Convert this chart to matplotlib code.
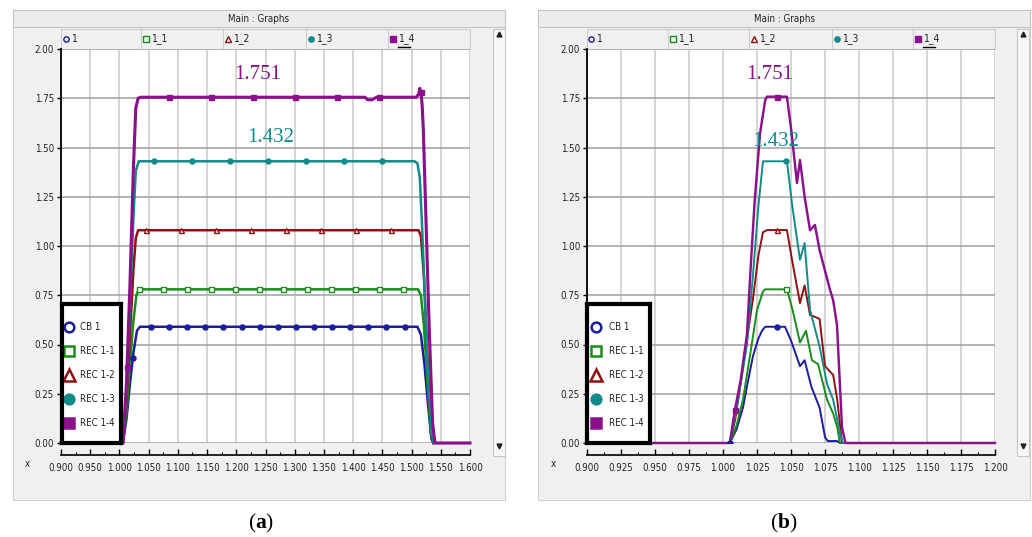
import numpy as np
import matplotlib.pyplot as plt
from matplotlib.patches import Rectangle

plt.rcParams['mathtext.fontset'] = 'custom'
plt.rcParams['mathtext.rm'] = 'Liberation Serif'
plt.rcParams['mathtext.bf'] = 'Liberation Serif:bold'

W, H = 1032, 537
UI = dict(family=['DejaVu Sans'], fontstretch='condensed', color='#222222')

# ---- data -------------------------------------------------------------
legend_labels = ['CB 1', 'REC 1-1', 'REC 1-2', 'REC 1-3', 'REC 1-4']
strip_labels = ['1', '1_1', '1_2', '1_3', '1_4']
y_ticks = [0.0, 0.25, 0.5, 0.75, 1.0, 1.25, 1.5, 1.75, 2.0]

a_xticks = [0.900, 0.950, 1.000, 1.050, 1.100, 1.150, 1.200, 1.250,
            1.300, 1.350, 1.400, 1.450, 1.500, 1.550, 1.600]
b_xticks = [0.900, 0.925, 0.950, 0.975, 1.000, 1.025, 1.050, 1.075,
            1.100, 1.125, 1.150, 1.175, 1.200]

# (a) long plateau runs
a_cb1_x = [0.900, 1.006, 1.012, 1.018, 1.024, 1.030, 1.035, 1.510, 1.516, 1.522, 1.528, 1.534, 1.538]
a_cb1_y = [0.0, 0.0, 0.12, 0.30, 0.46, 0.57, 0.59, 0.59, 0.55, 0.40, 0.20, 0.02, 0.0]
a_rec11_x = [0.900, 1.006, 1.012, 1.018, 1.024, 1.029, 1.033, 1.511, 1.516, 1.521, 1.527, 1.533, 1.537]
a_rec11_y = [0.0, 0.0, 0.15, 0.40, 0.62, 0.75, 0.78, 0.78, 0.75, 0.60, 0.32, 0.05, 0.0]
a_rec12_x = [0.900, 1.006, 1.012, 1.018, 1.024, 1.028, 1.032, 1.512, 1.516, 1.521, 1.527, 1.533, 1.537]
a_rec12_y = [0.0, 0.0, 0.20, 0.55, 0.88, 1.04, 1.08, 1.08, 1.05, 0.85, 0.45, 0.06, 0.0]
a_rec13_x = [0.900, 1.006, 1.012, 1.018, 1.024, 1.028, 1.033, 1.505, 1.510, 1.514, 1.518, 1.522, 1.528, 1.534, 1.538]
a_rec13_y = [0.0, 0.0, 0.25, 0.70, 1.15, 1.38, 1.43, 1.43, 1.42, 1.35, 1.10, 0.80, 0.35, 0.05, 0.0]
a_rec14_x = [0.900, 1.006, 1.012, 1.018, 1.024, 1.028, 1.032, 1.036, 1.420, 1.425, 1.432, 1.440,
             1.508, 1.512, 1.514, 1.516, 1.518, 1.520, 1.524, 1.530, 1.536, 1.540, 1.600]
a_rec14_y = [0.0, 0.0, 0.30, 0.80, 1.40, 1.70, 1.75, 1.755, 1.755, 1.742, 1.742, 1.755,
             1.755, 1.77, 1.80, 1.78, 1.72, 1.60, 1.20, 0.60, 0.10, 0.0, 0.0]

a_cb1_mx = [1.023, 1.054, 1.085, 1.116, 1.147, 1.178, 1.209, 1.240, 1.271, 1.302,
            1.333, 1.364, 1.395, 1.426, 1.457, 1.488]
a_rec11_mx = [1.034, 1.075, 1.116, 1.157, 1.198, 1.239, 1.280, 1.321, 1.362, 1.403, 1.444, 1.485]
a_rec12_mx = [1.045, 1.105, 1.165, 1.225, 1.285, 1.345, 1.405, 1.465]
a_rec13_mx = [1.060, 1.125, 1.190, 1.255, 1.320, 1.385, 1.450]
a_rec14_mx = [1.013, 1.085, 1.157, 1.229, 1.300, 1.373, 1.444, 1.516]

# (b) short pulse
b_cb1_x = [0.900, 1.005, 1.010, 1.0147, 1.018, 1.022, 1.026, 1.0287, 1.031, 1.0456, 1.050,
           1.0566, 1.060, 1.065, 1.071, 1.075, 1.077, 1.084, 1.086, 1.200]
b_cb1_y = [0.0, 0.0, 0.07, 0.18, 0.30, 0.44, 0.53, 0.57, 0.59, 0.59, 0.52,
           0.39, 0.42, 0.285, 0.18, 0.03, 0.01, 0.01, 0.0, 0.0]
b_rec11_x = [0.900, 1.005, 1.010, 1.0147, 1.020, 1.025, 1.0294, 1.031, 1.047, 1.051,
             1.0566, 1.061, 1.0654, 1.0699, 1.0765, 1.081, 1.084, 1.086, 1.200]
b_rec11_y = [0.0, 0.0, 0.09, 0.22, 0.45, 0.675, 0.77, 0.78, 0.78, 0.68,
             0.51, 0.57, 0.42, 0.40, 0.22, 0.15, 0.08, 0.0, 0.0]
b_rec12_x = [0.900, 1.005, 1.009, 1.0125, 1.017, 1.022, 1.026, 1.0294, 1.0324, 1.047, 1.051,
             1.0566, 1.060, 1.064, 1.0676, 1.071, 1.075, 1.081, 1.084, 1.0875, 1.200]
b_rec12_y = [0.0, 0.0, 0.12, 0.28, 0.50, 0.73, 0.95, 1.07, 1.081, 1.081, 0.92,
             0.71, 0.80, 0.65, 0.64, 0.63, 0.39, 0.345, 0.22, 0.0, 0.0]
b_rec13_x = [0.900, 1.005, 1.009, 1.013, 1.0176, 1.022, 1.026, 1.0294, 1.047, 1.051,
             1.0566, 1.060, 1.064, 1.071, 1.0765, 1.081, 1.086, 1.088, 1.200]
b_rec13_y = [0.0, 0.0, 0.14, 0.30, 0.50, 0.85, 1.20, 1.43, 1.43, 1.20,
             0.93, 1.015, 0.675, 0.49, 0.30, 0.22, 0.05, 0.0, 0.0]
b_rec14_x = [0.900, 1.005, 1.0088, 1.013, 1.0176, 1.020, 1.0232, 1.0272, 1.031, 1.0324, 1.047,
             1.050, 1.0544, 1.0566, 1.060, 1.064, 1.0676, 1.071, 1.0787, 1.081, 1.0838,
             1.0875, 1.090, 1.200]
b_rec14_y = [0.0, 0.0, 0.17, 0.32, 0.55, 0.85, 1.22, 1.57, 1.74, 1.758, 1.758,
             1.60, 1.32, 1.437, 1.25, 1.08, 1.107, 0.98, 0.777, 0.725, 0.60,
             0.08, 0.0, 0.0]

b_cb1_mx = [1.005, 1.040]
b_rec11_mx = [1.046]
b_rec12_mx = [1.040]
b_rec13_mx = [1.046]
b_rec14_mx = [1.0088, 1.040]

peak_labels = ['1.751', '1.432']
a_peak_pos = [(1.237, 1.87), (1.258, 1.55)]
b_peak_pos = [(1.0346, 1.87), (1.039, 1.53)]

# ---- styles -----------------------------------------------------------
colors = ['#1c1c9c', '#1a8c1a', '#8e1212', '#138a8a', '#8b118b']
markers = ['o', 's', '^', 'o', 's']
filled = [True, False, False, True, True]       # markers on the curves
key_filled = [False, False, False, True, True]  # legend / strip symbols


def fig_rect(x0, y0, x1, y1):
    return [x0 / W, 1 - y1 / H, (x1 - x0) / W, (y1 - y0) / H]


fig = plt.figure(figsize=(W / 100, H / 100), dpi=100)
fig.patch.set_facecolor('white')
bg = fig.add_axes([0, 0, 1, 1])
bg.set_xlim(0, W)
bg.set_ylim(H, 0)
bg.axis('off')


def draw_panel(px0, px1, plot_x0, plot_x1, sb_x0, cells, xticks, minor_step,
               series, marker_x, peaks, lw, tag, tag_x):
    # window frame
    bg.add_patch(Rectangle((px0, 10), px1 - px0, 490, fc='#f0f0f0', ec='#d0d0d0', lw=0.8))
    bg.add_patch(Rectangle((px0, 10), px1 - px0, 17, fc='#ececec', ec='#c4c4c4', lw=0.8))
    bg.text((px0 + px1) / 2, 18.5, 'Main : Graphs', ha='center', va='center', fontsize=7, **UI)
    # scrollbar
    bg.add_patch(Rectangle((sb_x0, 29), 12, 427, fc='#f7f7f7', ec='#c8c8c8', lw=0.8))
    bg.plot([sb_x0 + 6], [34], marker='^', ms=3.5, color='#222222')
    bg.plot([sb_x0 + 6], [446], marker='v', ms=3.5, color='#222222')
    # series strip
    bg.add_patch(Rectangle((plot_x0, 29), plot_x1 - plot_x0, 20, fc='#f0f0f0', ec='#cdcdcd', lw=0.8))
    for i, cx in enumerate(cells):
        if i > 0:
            bg.plot([cx, cx], [29, 49], color='#cdcdcd', lw=0.8)
        bg.plot([cx + 5], [38.5], marker=markers[i], ms=3.8, color=colors[i],
                mfc=colors[i] if key_filled[i] else 'none', mew=1.0)
        bg.text(cx + 10, 38.5, strip_labels[i], ha='left', va='center', fontsize=7.5, **UI)
    bg.plot([cells[-1] + 10, cells[-1] + 22], [47, 47], color='black', lw=1)
    bg.text(plot_x0 - 34, 464, 'x', ha='center', va='center', fontsize=7, **UI)
    bg.text(tag_x, 523, r'$\mathrm{(}\mathbf{' + tag + r'}\mathrm{)}$', ha='center',
            va='center', fontsize=15.5, color='black')

    # plot area
    ax = fig.add_axes(fig_rect(plot_x0, 49, plot_x1, 443))
    ax.set_facecolor('white')
    ax.set_xlim(xticks[0], xticks[-1])
    ax.set_ylim(0, 2)
    ax.set_xticks(xticks)
    ax.set_xticklabels([])
    ax.tick_params(axis='x', length=0)
    ax.set_yticks(y_ticks)
    ax.set_yticklabels(['%.2f' % v for v in y_ticks], fontsize=7, **UI)
    ax.tick_params(axis='y', length=3, width=1, color='black', pad=2)
    ax.grid(axis='x', color='#cdcdcd', lw=1.2)
    ax.grid(axis='y', color='#a6a6a6', lw=1.2)
    ax.set_axisbelow(True)
    for side in ['top', 'right', 'bottom']:
        ax.spines[side].set_visible(False)
    ax.spines['left'].set_color('black')
    ax.spines['left'].set_linewidth(1.3)

    for i, (xs, ys) in enumerate(series):
        w = lw * 1.25 if i == 4 else lw
        ax.plot(xs, ys, color=colors[i], lw=w, clip_on=False, zorder=3 + i * 0.1)
        mx = marker_x[i]
        my = np.interp(mx, xs, ys)
        ax.plot(mx, my, ls='none', marker=markers[i], ms=3.6, color=colors[i],
                mfc=colors[i] if filled[i] else 'white', mew=1.0, zorder=4 + i * 0.1)

    for (tx, ty), label, ci in zip(peaks, peak_labels, [4, 3]):
        ax.text(tx, ty, label, ha='center', va='center', fontsize=15,
                family='Liberation Serif', color=colors[ci], zorder=6)

    # x axis below the plot
    xa = fig.add_axes(fig_rect(plot_x0, 455, plot_x1, 455.0001))
    xa.set_facecolor('none')
    xa.set_xlim(xticks[0], xticks[-1])
    xa.set_yticks([])
    for side in ['top', 'right', 'left']:
        xa.spines[side].set_visible(False)
    xa.spines['bottom'].set_linewidth(1.2)
    xa.set_xticks(xticks)
    xa.set_xticklabels(['%.3f' % v for v in xticks], fontsize=7, **UI)
    xa.set_xticks(list(np.array(xticks[:-1]) + minor_step), minor=True)
    xa.tick_params(axis='x', which='major', direction='in', length=4, width=1, pad=6)
    xa.tick_params(axis='x', which='minor', direction='in', length=2.5, width=0.8)
    return ax


def draw_legend(x0, x1, mk_off, txt_off):
    lg = fig.add_axes(fig_rect(x0, 304, x1, 443))
    lg.set_xlim(0, x1 - x0)
    lg.set_ylim(443, 304)
    lg.set_xticks([])
    lg.set_yticks([])
    lg.set_facecolor('white')
    for s in lg.spines.values():
        s.set_linewidth(3)
        s.set_color('black')
    for i, label in enumerate(legend_labels):
        cy = 327 + 24 * i
        lg.plot([mk_off], [cy], marker=markers[i], ms=7 if i != 2 else 8, color=colors[i],
                mfc=colors[i] if key_filled[i] else 'none', mew=1.8)
        lg.text(txt_off, cy, label, ha='left', va='center', fontsize=7, clip_on=False, **UI)


a_series = [(a_cb1_x, a_cb1_y), (a_rec11_x, a_rec11_y), (a_rec12_x, a_rec12_y),
            (a_rec13_x, a_rec13_y), (a_rec14_x, a_rec14_y)]
a_marks = [a_cb1_mx, a_rec11_mx, a_rec12_mx, a_rec13_mx, a_rec14_mx]
b_series = [(b_cb1_x, b_cb1_y), (b_rec11_x, b_rec11_y), (b_rec12_x, b_rec12_y),
            (b_rec13_x, b_rec13_y), (b_rec14_x, b_rec14_y)]
b_marks = [b_cb1_mx, b_rec11_mx, b_rec12_mx, b_rec13_mx, b_rec14_mx]

draw_panel(13, 505, 61, 470, 493, [61, 141, 223, 306, 388], a_xticks, 0.025,
           a_series, a_marks, a_peak_pos, 1.8, 'a', 261)
draw_legend(62, 121, 7, 18.5)

draw_panel(538, 1030, 587, 995, 1017, [586, 668, 749, 832, 913], b_xticks, 0.0125,
           b_series, b_marks, b_peak_pos, 1.4, 'b', 784)
draw_legend(587, 650, 9, 22)

fig.savefig('out.png', dpi=100, facecolor='white')
